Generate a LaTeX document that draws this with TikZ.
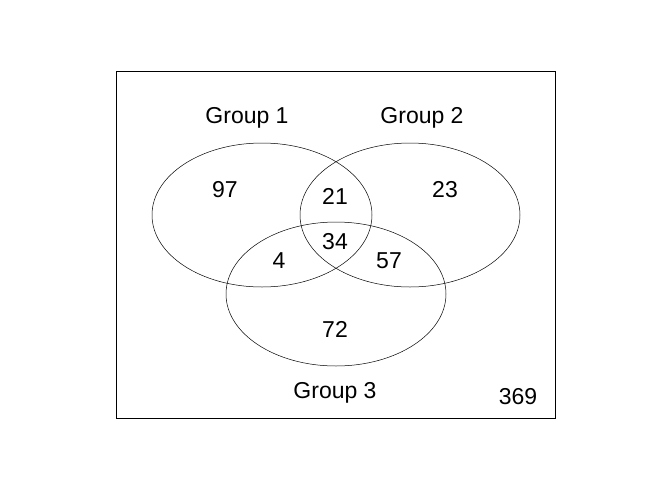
\documentclass[tikz,border=0pt]{standalone}
\usepackage{fontspec}
\setmainfont{Liberation Sans}
\usetikzlibrary{positioning}

\begin{document}
\begin{tikzpicture}[x=1pt, y=-1pt, count/.style={font=\fontsize{23}{26}\selectfont, inner sep=0pt}, set/.style={draw, line width=0.5pt}]
\useasboundingbox (0,0) rectangle (672,480);
\draw[line width=0.9pt] (116,71) rectangle (555,418);
% the three groups
\draw[set] (262,215) ellipse (110 and 72);
\draw[set] (410,215) ellipse (110 and 72);
\draw[set] (336,294) ellipse (110 and 72);
\node[count] (g1) at (247,118) {Group 1};
\node[count] (g2) at (422,118) {Group 2};
\node[count] (g3) at (335,393) {Group 3};
% counts per region
\node[count] (n1) at (225,190) {97};
\node[count] (n12) at (335,196) {21};
\node[count] (n2) at (445,190) {23};
\node[count] (n123) at (335,242) {34};
\node[count] (n13) at (279,261) {4};
\node[count] (n23) at (389,261) {57};
\node[count] (n3) at (335,329) {72};
\node[count] (out) at (518,397) {369};
\end{tikzpicture}
\end{document}
